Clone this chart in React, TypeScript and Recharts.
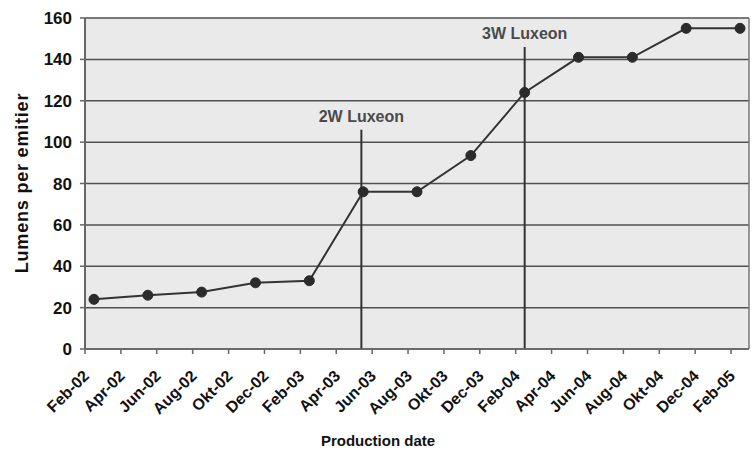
import React from 'react';
import { LineChart, Line, XAxis, YAxis, CartesianGrid, ReferenceLine } from 'recharts';

// Production dates (months after Feb-02) and lumens per emitter
const pointDates = ['Feb-02', 'May-02', 'Aug-02', 'Nov-02', 'Feb-03', 'May-03', 'Aug-03', 'Nov-03', 'Feb-04', 'May-04', 'Aug-04', 'Nov-04', 'Feb-05'];
const monthPositions = [0.5, 3.5, 6.5, 9.5, 12.5, 15.5, 18.5, 21.5, 24.5, 27.5, 30.5, 33.5, 36.5];
const lumens = [24, 26, 27.5, 32, 33, 76, 76, 93.5, 124, 141, 141, 155, 155];

const tickMonths = [0, 2, 4, 6, 8, 10, 12, 14, 16, 18, 20, 22, 24, 26, 28, 30, 32, 34, 36];
const tickLabels = ['Feb-02', 'Apr-02', 'Jun-02', 'Aug-02', 'Okt-02', 'Dec-02', 'Feb-03', 'Apr-03', 'Jun-03', 'Aug-03', 'Okt-03', 'Dec-03', 'Feb-04', 'Apr-04', 'Jun-04', 'Aug-04', 'Okt-04', 'Dec-04', 'Feb-05'];
const yTicks = [0, 20, 40, 60, 80, 100, 120, 140, 160];

const markerNames = ['2W Luxeon', '3W Luxeon'];
const markerMonths = [15.4, 24.5];
const markerTops = [106, 146];

const data = monthPositions.map((m, i) => ({ m, v: lumens[i], date: pointDates[i] }));

const FONT = '"Liberation Sans", Arial, Helvetica, sans-serif';

function XTick(props: any) {
  const { x, y, payload } = props;
  const i = tickMonths.indexOf(payload.value);
  const label = i >= 0 ? tickLabels[i] : '';
  const ex = x + 5;
  const ey = y + 23;
  return (
    <text
      x={ex}
      y={ey}
      transform={`rotate(-45, ${ex}, ${ey})`}
      textAnchor="end"
      fontSize={16}
      fontWeight="bold"
      fill="#111"
      fontFamily={FONT}
    >
      {label}
    </text>
  );
}

export default function App() {
  return (
    <div style={{ position: 'absolute', left: 0, top: 0, width: 755, height: 450, background: '#ffffff' }}>
      <LineChart width={755} height={450} data={data} margin={{ top: 18, right: 6, left: 0, bottom: 0 }}>
        <CartesianGrid
          horizontal={true}
          vertical={false}
          stroke="#505050"
          strokeWidth={1.5}
          fill="#eaeaea"
          fillOpacity={1}
        />
        <XAxis
          type="number"
          dataKey="m"
          domain={[0, 37]}
          ticks={tickMonths}
          interval={0}
          allowDataOverflow
          height={101}
          tickSize={5}
          tickMargin={0}
          axisLine={{ stroke: '#666', strokeWidth: 1.5 }}
          tickLine={{ stroke: '#666', strokeWidth: 1.5 }}
          tick={<XTick />}
          label={{
            value: 'Production date',
            content: () => (
              <text x={378} y={446} textAnchor="middle" fontSize={15} fontWeight="bold" fill="#111" fontFamily={FONT}>
                Production date
              </text>
            ),
          }}
        />
        <YAxis
          type="number"
          domain={[0, 160]}
          ticks={yTicks}
          interval={0}
          width={85}
          tickSize={5}
          tickMargin={8}
          axisLine={{ stroke: '#666', strokeWidth: 2 }}
          tickLine={{ stroke: '#666', strokeWidth: 1.5 }}
          tick={{ fontSize: 17, fontWeight: 'bold', fill: '#111', fontFamily: FONT }}
          label={{
            value: 'Lumens per emitier',
            content: () => (
              <text
                x={22}
                y={183}
                transform="rotate(-90, 22, 183)"
                textAnchor="middle"
                dominantBaseline="central"
                fontSize={18}
                fontWeight="bold"
                letterSpacing={0.8}
                fill="#111"
                fontFamily={FONT}
              >
                Lumens per emitier
              </text>
            ),
          }}
        />
        <ReferenceLine x={37} stroke="#777" strokeWidth={1.5} />
        {markerNames.map((name, i) => (
          <ReferenceLine
            key={name}
            segment={[
              { x: markerMonths[i], y: 0 },
              { x: markerMonths[i], y: markerTops[i] },
            ]}
            stroke="#333"
            strokeWidth={2}
            label={{
              value: name,
              position: 'top',
              offset: 8,
              fill: '#4a4a4a',
              fontSize: 16,
              fontWeight: 'bold',
              fontFamily: FONT,
            }}
          />
        ))}
        <Line
          type="linear"
          dataKey="v"
          stroke="#333"
          strokeWidth={2}
          dot={{ r: 5, fill: '#2b2b2b', stroke: '#2b2b2b', strokeWidth: 1 }}
          isAnimationActive={false}
        />
      </LineChart>
    </div>
  );
}
